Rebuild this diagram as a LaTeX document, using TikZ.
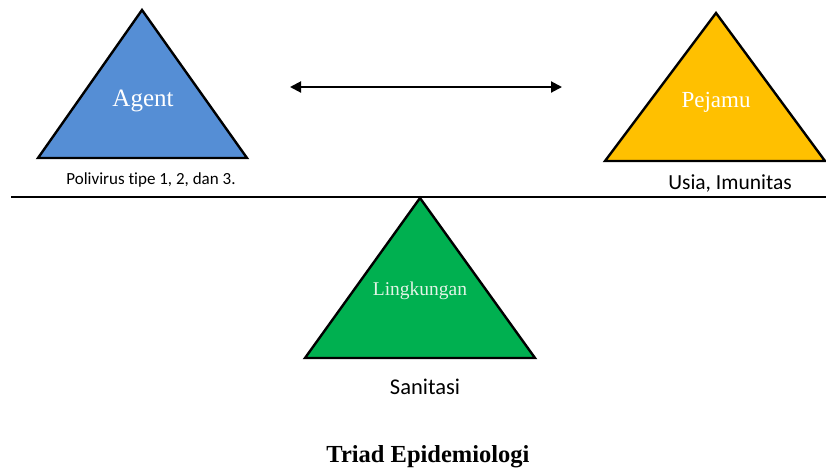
\documentclass[tikz,border=0pt]{standalone}
\usepackage{fontspec}
\setmainfont{Liberation Serif}
\newfontfamily\labelfont[Ligatures=NoCommon]{Carlito}
\usetikzlibrary{arrows.meta}
\definecolor{agentblue}{HTML}{558ED5}
\definecolor{hostgold}{HTML}{FFC000}
\definecolor{envgreen}{HTML}{00B050}
\definecolor{envtext}{HTML}{E2F4E6}
\tikzset{
  tri/.style={draw=black, line width=2.4pt, line join=miter},
  inner/.style={text=white, inner sep=0pt, anchor=center},
  sub/.style={inner sep=0pt, anchor=center, font=\labelfont},
  lever/.style={draw=black, line width=2pt},
  link/.style={draw=black, line width=2pt, {Triangle[length=11pt,width=11pt]}-{Triangle[length=11pt,width=11pt]}}
}
\begin{document}
\begin{tikzpicture}[x=1pt,y=-1pt]
\useasboundingbox (0,0) rectangle (826,472);
% Agent
\coordinate (aT) at (142,10);
\coordinate (aL) at (38,158);
\coordinate (aR) at (247,158);
\fill[agentblue] (aT) -- (aL) -- (aR) -- cycle;
\path[tri] (aT) -- (aL) -- (aR) -- cycle;
\node[inner, font=\fontsize{25}{27}\selectfont] (agent) at (143,101) {Agent};
\node[sub, font=\labelfont\fontsize{17}{19}\selectfont] (agentsub) at (151,180) {Polivirus tipe 1, 2, dan 3.};
% Pejamu
\coordinate (pT) at (716,13);
\coordinate (pL) at (605,161);
\coordinate (pR) at (825,161);
\fill[hostgold] (pT) -- (pL) -- (pR) -- cycle;
\path[tri] (pT) -- (pL) -- (pR) -- cycle;
\node[inner, font=\fontsize{23}{25}\selectfont] (host) at (716,102) {Pejamu};
\node[sub, font=\labelfont\fontsize{21.5}{23}\selectfont] (hostsub) at (730,183) {Usia, Imunitas};
% lever line
\coordinate (lineL) at (11,197);
\coordinate (lineR) at (826,197);
\path[lever] (lineL) -- (lineR);
% Lingkungan
\coordinate (lT) at (420,198);
\coordinate (lL) at (305,358);
\coordinate (lR) at (535,358);
\fill[envgreen] (lT) -- (lL) -- (lR) -- cycle;
\path[tri] (lT) -- (lL) -- (lR) -- cycle;
\node[inner, text=envtext, font=\fontsize{19.5}{21}\selectfont] (env) at (420,291) {Lingkungan};
\node[sub, font=\labelfont\fontsize{22.5}{24}\selectfont] (envsub) at (425,387) {Sanitasi};
% arrow
\coordinate (arL) at (290,87);
\coordinate (arR) at (562,87);
\path[link] (arL) -- (arR);
% title
\node[inner sep=0pt, font=\bfseries\fontsize{24.5}{26}\selectfont] (title) at (428,457) {Triad Epidemiologi};
\end{tikzpicture}
\end{document}
